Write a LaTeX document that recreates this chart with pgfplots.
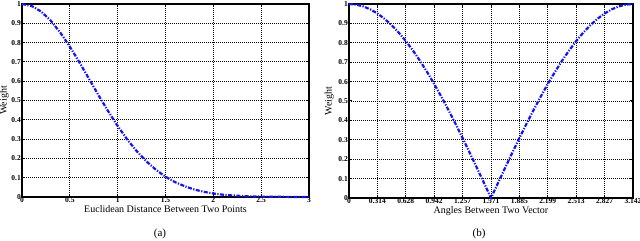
\documentclass[border=0pt]{standalone}
\usepackage{pgfplots}
\pgfplotsset{compat=1.18}
\usepackage{fontspec}
\setmainfont{Liberation Serif}
\definecolor{lineblue}{RGB}{20,20,240}
\pgfplotsset{
  myaxis/.style={
    scale only axis,
    ymin=0, ymax=1,
    ytick={0,0.1,0.2,0.3,0.4,0.5,0.6,0.7,0.8,0.9,1},
    yticklabels={0,0.1,0.2,0.3,0.4,0.5,0.6,0.7,0.8,0.9,1},
    tick align=inside,
    tick pos=both,
    major tick length=3pt,
    axis line style={line width=1.5pt},
    every tick/.style={black, line width=1pt},
    grid=major,
    major grid style={black, line width=0.9pt, dash pattern=on 1pt off 1pt},
    /pgf/number format/assume math mode=true,
    tick label style={font=\fontsize{7.5}{7.5}\selectfont\bfseries, inner sep=0.5pt},
    yticklabel style={xshift=-0.5pt},
    label style={font=\fontsize{10.5}{10.5}\selectfont},
    every axis x label/.style={at={(axis description cs:0.5,0)}, anchor=north, yshift=-8pt, inner sep=0pt},
    clip=false,
  },
  curve/.style={lineblue, line width=2.2pt, dash pattern=on 4pt off 1.5pt on 1.2pt off 1.5pt},
}
\begin{document}
\begin{tikzpicture}
\useasboundingbox (0pt,0pt) rectangle (640pt,241pt);
\begin{axis}[myaxis,
  at={(22pt,44pt)}, anchor=south west, width=287pt, height=193pt,
  xmin=0, xmax=3,
  xtick={0,0.5,1,1.5,2,2.5,3},
  xticklabels={0,0.5,1,1.5,2,2.5,3},
  xlabel={Euclidean Distance Between Two Points},
  ylabel={Weight},
  every axis y label/.style={at={(axis description cs:-0.0453,0.5)}, anchor=south, rotate=90, inner sep=0pt},
]
\addplot[curve] coordinates {
(0,1) (0.1,0.990) (0.2,0.961) (0.3,0.914) (0.4,0.852) (0.5,0.779)
(0.6,0.698) (0.7,0.613) (0.8,0.527) (0.9,0.445) (1.0,0.368)
(1.1,0.298) (1.2,0.237) (1.3,0.185) (1.4,0.141) (1.5,0.105)
(1.6,0.077) (1.7,0.056) (1.8,0.039) (1.9,0.027) (2.0,0.018)
(2.1,0.012) (2.2,0.008) (2.3,0.005) (2.4,0.003) (2.5,0.002)
(2.6,0.001) (2.7,0.001) (2.8,0.0004) (2.9,0.0002) (3.0,0.0001)
};
\end{axis}
\begin{axis}[myaxis,
  at={(349pt,43pt)}, anchor=south west, width=284pt, height=194pt,
  xmin=0, xmax=3.1416,
  xtick={0,0.314,0.628,0.942,1.257,1.571,1.885,2.199,2.513,2.827,3.142},
  xticklabels={0,0.314,0.628,0.942,1.257,1.571,1.885,2.199,2.513,2.827,3.142},
  xlabel={Angles Between Two Vector},
  ylabel={Weight},
  every axis y label/.style={at={(axis description cs:-0.0528,0.5)}, anchor=south, rotate=90, inner sep=0pt},
]
\addplot[curve] coordinates {
(0,1) (0.0785,0.9969) (0.1571,0.9877) (0.2356,0.9724) (0.3142,0.9511)
(0.3927,0.9239) (0.4712,0.8910) (0.5498,0.8526) (0.6283,0.8090)
(0.7069,0.7604) (0.7854,0.7071) (0.8639,0.6494) (0.9425,0.5878)
(1.0210,0.5225) (1.0996,0.4540) (1.1781,0.3827) (1.2566,0.3090)
(1.3352,0.2334) (1.4137,0.1564) (1.4923,0.0785) (1.5708,0)
(1.6493,0.0785) (1.7279,0.1564) (1.8064,0.2334) (1.8850,0.3090)
(1.9635,0.3827) (2.0420,0.4540) (2.1206,0.5225) (2.1991,0.5878)
(2.2777,0.6494) (2.3562,0.7071) (2.4347,0.7604) (2.5133,0.8090)
(2.5918,0.8526) (2.6704,0.8910) (2.7489,0.9239) (2.8274,0.9511)
(2.9060,0.9724) (2.9845,0.9877) (3.0631,0.9969) (3.1416,1)
};
\end{axis}
\node[font=\fontsize{11}{11}\selectfont] at (160pt,7pt) {(a)};
\node[font=\fontsize{11}{11}\selectfont] at (479pt,7pt) {(b)};
\end{tikzpicture}
\end{document}
